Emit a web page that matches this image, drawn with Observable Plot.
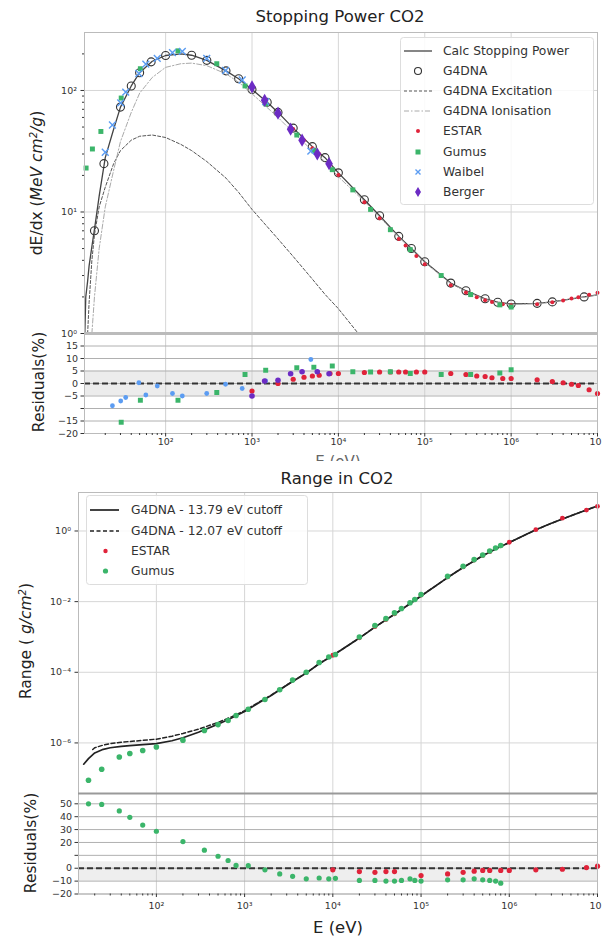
<!DOCTYPE html>
<html><head><meta charset="utf-8">
<script src="https://cdn.jsdelivr.net/npm/d3@7"></script>
<script src="https://cdn.jsdelivr.net/npm/@observablehq/plot@0.6"></script>
<style>
body{margin:0;background:#fff;}
#root{position:relative;width:602px;height:937px;overflow:hidden;font-family:"DejaVu Sans",sans-serif;background:#fff;}
.lbl{position:absolute;white-space:nowrap;color:#222;line-height:1;}
sup{font-size:65%;vertical-align:0.55em;line-height:0;}
</style></head><body><div id="root"></div>
<script>
// ---------- Stopping power data ----------
const calcE = [11.6,11.9,12.5,13,14,15,17,20,25,30,40,50,70,100,150,200,300,500,700,1000,1500,2000,3000,5000,7000,1e4,2e4,3e4,5e4,7e4,1e5,2e5,3e5,5e5,7e5,1e6,2e6,3e6,5e6,7e6,1e7];
const calcS = [1.0,2.0,2.7,3.6,5.2,7.2,13.5,28,48,73,109,140,174,194,200,195,177,145,125,102,80,66,49,34.5,28,21,12.6,9.3,6.3,5.0,3.9,2.6,2.25,1.93,1.81,1.75,1.77,1.82,1.93,2.0,2.08];
const excE = [12.5,13,14,15,17,20,25,30,40,50,70,100,150,200,300,500,700,1000,2000,3000,5000,7000,1e4,1.7e4];
const excS = [1.0,1.8,4,6.5,11,16,25,32,39,42,43,41,36,32,26,19,14.5,10.5,6,4.3,2.8,2.1,1.6,1.0];
const ionE = [14,15,17,20,25,30,40,50,70,100,150,200,300,500,700,1000,2000,3000,5000,7000,1e4,2e4,3e4,5e4,7e4,1e5,2e5,3e5,5e5,7e5,1e6,2e6,3e6,5e6,7e6,1e7];
const ionS = [1.0,2.0,5,11,22,38,66,95,128,155,166,168,160,137,117,94,60,45,32,26,19.5,12.2,9.1,6.2,4.95,3.85,2.57,2.23,1.91,1.8,1.73,1.76,1.81,1.92,1.99,2.07];
const g4E = [15,19.3,30,40,50,68,100,200,300,500,700,1000,1500,2000,3000,5000,7000,1e4,2e4,3e4,5e4,7e4,1e5,2e5,3e5,5e5,7e5,1e6,2e6,3e6,7e6];
const g4S = [7.0,25,73,109,140,172,194,195,177,145,125,102,80,66,49,34.5,28,21,12.6,9.3,6.3,5.0,3.9,2.6,2.25,1.93,1.81,1.75,1.77,1.82,2.0];
const estarE = [1000,2000,3000,4000,5000,6000,8000,1e4,2e4,3e4,4e4,5e4,6e4,8e4,1e5,2e5,3e5,4e5,5e5,6e5,8e5,1e6,2e6,3e6,4e6,5e6,6e6,8e6,1e7];
const estarS = [105,66,48.2,39,33.5,30,24.5,20.2,12.0,8.87,7.15,6.0,5.3,4.35,3.72,2.5,2.17,1.99,1.88,1.82,1.74,1.71,1.74,1.81,1.87,1.94,1.99,2.08,2.16];
const estarRes = [-3,0,1.7,2.5,3,3.3,4,4,4.4,4.6,4.6,4.6,4.6,4.6,4.6,4.0,3.6,3.0,2.8,2.3,2.0,2.0,1.5,0.8,0.3,-0.3,-0.8,-2.5,-4];
const gumE = [12,14.2,17.8,30.6,51,139,391,830,1440,3300,5200,8500,14700,23600,40000,68000,1.55e5,3.4e5,7.4e5,1e6];
const gumS = [23,33,46,86.6,151,212,166,109,77.6,43,31.8,22.3,15.2,10.5,7.15,4.9,3.0,2.09,1.72,1.65];
const gumResE = [30.6,51,139,391,830,1440,3300,5200,8500,14700,23600,40000,68000,1.55e5,3.4e5,7.4e5,1e6];
const gumRes = [-15.5,-6.7,-6.7,-3.6,3.6,5.3,6.3,6.5,7,4.7,4.6,4.7,4.0,3.6,3.6,4.2,5.5];
const waiE = [20,24.2,30.2,34.5,49,59,80,120,156,299,494,770,1440,4800];
const waiS = [31,52,79,97,138,165,184,205,210,184,146,122,81,31.7];
const waiResE = [24.2,30.2,34.5,49,59,80,120,156,299,494,770,1440,4800];
const waiRes = [-8.9,-7,-5.6,0.3,-4.6,-1,-4,-5,-4,-0.3,-2,1.0,9.6];
const berE = [1000,1400,2000,2800,3800,5700,7800];
const berS = [107,83,65,48,39,30,25];
const berRes = [-5,1,1.3,3.9,4.7,4.7,3.9];

// ---------- Range data ----------
const rSolidE = [15,17,20,25,30,40,50,70,100,150,200,300,500,700,1000,1500,2000,3000,5000,7000,1e4,2e4,3e4,5e4,7e4,1e5,2e5,3e5,5e5,7e5,1e6,2e6,3e6,5e6,7e6,1e7];
const rSolid = [2.5e-7,3.6e-7,5.2e-7,6.6e-7,7.3e-7,8.0e-7,8.4e-7,8.9e-7,9.6e-7,1.15e-6,1.4e-6,2.0e-6,3.4e-6,5.0e-6,7.8e-6,1.45e-5,2.2e-5,4.3e-5,9.5e-5,1.75e-4,3.0e-4,9.3e-4,1.9e-3,4.4e-3,7.8e-3,1.45e-2,4.8e-2,9.3e-2,0.2,0.31,0.47,1.08,1.65,2.7,3.7,5.1];
const rDashE = [19,20,25,30,40,50,70,100,150,200,300,500,700,1000,1500,2000,3000,5000,7000,1e4,2e4,3e4,5e4,7e4,1e5,2e5,3e5,5e5,7e5,1e6,2e6,3e6,5e6,7e6,1e7];
const rDash = [6.5e-7,7.3e-7,8.7e-7,9.6e-7,1.05e-6,1.1e-6,1.18e-6,1.28e-6,1.55e-6,1.85e-6,2.45e-6,3.8e-6,5.4e-6,8.2e-6,1.5e-5,2.25e-5,4.35e-5,9.6e-5,1.76e-4,3.0e-4,9.3e-4,1.9e-3,4.4e-3,7.8e-3,1.45e-2,4.8e-2,9.3e-2,0.2,0.31,0.47,1.08,1.65,2.7,3.7,5.1];
const rGumE = [17,24,38,50,70,100,200,350,500,650,800,1100,1700,2500,3500,5000,7000,9000,1.07e4,2e4,3e4,4e4,5e4,6e4,7.5e4,8.5e4,1e5,2e5,3e5,4e5,5e5,6e5,7e5,8e5];
const rGum = [8.8e-8,1.8e-7,4.0e-7,5.0e-7,6.1e-7,7.7e-7,1.2e-6,2.25e-6,3.3e-6,4.3e-6,6.0e-6,9.0e-6,1.7e-5,3.2e-5,6.0e-5,1.0e-4,1.9e-4,2.7e-4,3.2e-4,1.0e-3,2.1e-3,3.3e-3,4.8e-3,6.4e-3,9.3e-3,1.15e-2,1.6e-2,5.2e-2,0.1,0.155,0.21,0.27,0.33,0.39];
const rGumRes = [50,49.5,44.5,39.5,33.5,28.7,20.7,14,9.3,6,2.2,2,-1.2,-4.4,-6.3,-8.2,-7.6,-8.2,-7.8,-9.5,-9.5,-10,-10,-9.5,-8.2,-9.5,-10,-9,-9,-8.2,-9,-9.5,-10,-11.6];
const rEstE = [1e4,2e4,3e4,4e4,5e4,1e5,2e5,3e5,4e5,5e5,6e5,8e5,1e6,2e6,4e6,7.5e6,1e7];
const rEst = [3.04e-4,9.5e-4,1.96e-3,3.1e-3,4.5e-3,1.53e-2,5.0e-2,9.6e-2,0.15,0.203,0.26,0.38,0.48,1.09,2.3,3.9,5.0];
const rEstRes = [-1.2,-2.6,-3.2,-2.6,-2.6,-5.7,-4.4,-3.2,-2.3,-1.7,-1.7,-1.7,-1.7,-1.2,-0.8,0.5,1.6];

// ---------- axis tick lists ----------
const xDecades = [1e2,1e3,1e4,1e5,1e6,1e7];
const spYTicks = [1,10,100];
const resTopTicks = [15,10,5,0,-5,-10,-15,-20];
const rangeYTicks = [1e-6,1e-4,1e-2,1];
const resBotTicks = [50,40,30,20,10,0,-10,-20];

// ---------- helpers ----------
const zip = (xs, ys) => xs.map((x, i) => ({x, y: ys[i]}));
const SUP = {"0":"⁰","1":"¹","2":"²","3":"³","4":"⁴","5":"⁵","6":"⁶","7":"⁷","8":"⁸","9":"⁹","-":"⁻"};
const pow10 = v => "10" + String(Math.round(Math.log10(v))).split("").map(c => SUP[c]).join("");
const mfmt = skip => v => v === skip ? "" : (v < 0 ? "\u2212" + Math.abs(v) : String(v));
const minorLog = (lo, hi) => { const o = []; for (let e = lo; e < hi; e++) for (let k = 2; k <= 9; k++) o.push(k * 10 ** e); return o; };
const minorX = minorLog(1, 7).filter(v => v > 11.5);
const minorY = minorLog(0, 3).filter(v => v < 300);

const root = document.getElementById("root");
const STYLE = {fontFamily: "DejaVu Sans, sans-serif", fontSize: "9.5px", color: "#333", background: "transparent", overflow: "visible"};
function place(el, top) { el.style.position = "absolute"; el.style.left = "0px"; el.style.top = top + "px"; root.appendChild(el); }
function label(html, cx, cy, size, rotate, extra) {
  const d = document.createElement("div");
  d.className = "lbl";
  d.innerHTML = html;
  d.style.fontSize = size + "px";
  d.style.left = cx + "px"; d.style.top = cy + "px";
  d.style.transform = "translate(-50%,-50%)" + (rotate ? " rotate(-90deg)" : "");
  if (extra) Object.assign(d.style, extra);
  root.appendChild(d);
  return d;
}

const C = {estar: "#e0233a", gumus: "#3bb56a", waibel: "#5b9cf2", berger: "#6c2bc4", g4: "#333"};

// ---------- Stopping power main ----------
const spX = {type: "log", domain: [11.5, 1e7], axis: null};
place(Plot.plot({
  width: 602, height: 340, marginTop: 32, marginBottom: 7, marginLeft: 84, marginRight: 5, style: STYLE,
  x: spX, y: {type: "log", domain: [1, 300], axis: null},
  marks: [
    Plot.gridX(xDecades, {stroke: "#d6d6d6", strokeOpacity: 1}),
    Plot.gridY([10, 100], {stroke: "#d6d6d6", strokeOpacity: 1}),
    Plot.line(zip(calcE, calcS), {x: "x", y: "y", stroke: "#444", strokeWidth: 1.3, clip: true}),
    Plot.dot(zip(g4E, g4S), {x: "x", y: "y", r: 4, stroke: C.g4, fill: "none", strokeWidth: 1.1}),
    Plot.line(zip(excE, excS), {x: "x", y: "y", stroke: "#555", strokeWidth: 1, strokeDasharray: "3,2", clip: true}),
    Plot.line(zip(ionE, ionS), {x: "x", y: "y", stroke: "#aaa", strokeWidth: 1, strokeDasharray: "5,2,1.5,2", clip: true}),
    Plot.dot(zip(estarE, estarS), {x: "x", y: "y", r: 2, fill: C.estar}),
    Plot.dot(zip(gumE, gumS), {x: "x", y: "y", r: 2.8, symbol: "square", fill: C.gumus}),
    Plot.dot(zip(waiE, waiS), {x: "x", y: "y", r: 3.2, symbol: "times", stroke: C.waibel, strokeWidth: 1.4}),
    Plot.dot(zip(berE, berS), {x: "x", y: "y", r: 4, symbol: "diamond", fill: C.berger}),
    Plot.frame({stroke: "#bbb"}),
    Plot.axisY(spYTicks, {tickFormat: pow10, tickSize: 3.5, tickPadding: 4, label: null}),
    Plot.axisY(minorY, {tickFormat: () => "", tickSize: 2, label: null})
  ]
}), 0);

// ---------- Stopping power residuals ----------
place(Plot.plot({
  width: 602, height: 130, marginTop: 3, marginBottom: 27, marginLeft: 84, marginRight: 5, style: STYLE,
  x: spX, y: {domain: [-20, 20], axis: null},
  marks: [
    Plot.rect([{a: -5, b: 5}], {y1: "a", y2: "b", fill: "#ececec"}),
    Plot.gridX(xDecades, {stroke: "#d0d0d0", strokeOpacity: 1}),
    Plot.gridY(resTopTicks, {stroke: "#b0b0b0", strokeOpacity: 1}),
    Plot.ruleY([0], {stroke: "#333", strokeWidth: 2, strokeDasharray: "6,3"}),
    Plot.dot(zip(estarE, estarRes), {x: "x", y: "y", r: 2.6, fill: C.estar}),
    Plot.dot(zip(gumResE, gumRes), {x: "x", y: "y", r: 2.8, symbol: "square", fill: C.gumus}),
    Plot.dot(zip(waiResE, waiRes), {x: "x", y: "y", r: 2.4, fill: C.waibel}),
    Plot.dot(zip(berE, berRes), {x: "x", y: "y", r: 2.8, fill: C.berger}),
    Plot.frame({stroke: "#bbb"}),
    Plot.ruleY([20], {stroke: "#bbb", strokeWidth: 3}),
    Plot.axisY(resTopTicks, {tickFormat: mfmt(-10), tickSize: 3.5, tickPadding: 3, label: null}),
    Plot.axisX(xDecades, {tickFormat: pow10, tickSize: 3.5, tickPadding: 1, label: null}),
    Plot.axisX(minorX, {tickFormat: () => "", tickSize: 2, label: null})
  ]
}), 330);

// top panel texts
label("Stopping Power CO2", 340, 17, 16.5, false);
label("dE/dx (<i>MeV cm<sup>2</sup>/g</i>)", 38, 183, 15.5, true);
label("Residuals(%)", 40, 382, 15.5, true);
label("E (eV)", 338, 461.5, 15, false, {color: "#666"});

// cover (lower figure drawn over the upper x label)
const cover = document.createElement("div");
Object.assign(cover.style, {position: "absolute", left: "0px", top: "461px", width: "602px", height: "476px", background: "#fff"});
root.appendChild(cover);

// legend helper
function legend(left, top, w, h, rows) {
  const ns = "http://www.w3.org/2000/svg";
  const s = document.createElementNS(ns, "svg");
  s.setAttribute("width", w); s.setAttribute("height", h);
  Object.assign(s.style, {position: "absolute", left: left + "px", top: top + "px", overflow: "visible"});
  let html = `<rect x="0.5" y="0.5" width="${w - 1}" height="${h - 1}" rx="3" fill="#fff" fill-opacity="0.85" stroke="#ddd"/>`;
  for (const r of rows) html += r;
  s.innerHTML = html;
  root.appendChild(s);
}
const txt = (x, y, t) => `<text x="${x}" y="${y}" dy="0.35em" font-family="DejaVu Sans, sans-serif" font-size="12.3" fill="#333">${t}</text>`;

legend(400, 37, 194, 168, [
  `<line x1="4" x2="32" y1="14" y2="14" stroke="#444" stroke-width="1.3"/>` + txt(43, 14, "Calc Stopping Power"),
  `<circle cx="18" cy="34" r="3.5" fill="none" stroke="#333" stroke-width="1.1"/>` + txt(43, 34, "G4DNA"),
  `<line x1="4" x2="32" y1="54" y2="54" stroke="#555" stroke-dasharray="3,2"/>` + txt(43, 54, "G4DNA Excitation"),
  `<line x1="4" x2="32" y1="74" y2="74" stroke="#aaa" stroke-dasharray="5,2,1.5,2"/>` + txt(43, 74, "G4DNA Ionisation"),
  `<circle cx="18" cy="94" r="2" fill="${C.estar}"/>` + txt(43, 94, "ESTAR"),
  `<rect x="15.5" y="112.5" width="5" height="5" fill="${C.gumus}"/>` + txt(43, 115, "Gumus"),
  `<path d="M15.5,132.5L20.5,137.5M20.5,132.5L15.5,137.5" stroke="${C.waibel}" stroke-width="1.4"/>` + txt(43, 135, "Waibel"),
  `<path d="M18,150L21,155L18,160L15,155Z" fill="${C.berger}"/>` + txt(43, 155, "Berger")
]);

// ---------- Range main ----------
const rX = {type: "log", domain: [13.1, 1e7], axis: null};
place(Plot.plot({
  width: 602, height: 340, marginTop: 32, marginBottom: 7, marginLeft: 78, marginRight: 5, style: STYLE,
  x: rX, y: {type: "log", domain: [3.7e-8, 12.3], axis: null},
  marks: [
    Plot.gridX(xDecades, {stroke: "#d6d6d6", strokeOpacity: 1}),
    Plot.gridY(rangeYTicks, {stroke: "#d6d6d6", strokeOpacity: 1}),
    Plot.line(zip(rSolidE, rSolid), {x: "x", y: "y", stroke: "#222", strokeWidth: 1.7, clip: true}),
    Plot.line(zip(rDashE, rDash), {x: "x", y: "y", stroke: "#222", strokeWidth: 1.5, strokeDasharray: "4,2.5", clip: true}),
    Plot.dot(zip(rEstE, rEst), {x: "x", y: "y", r: 2.4, fill: C.estar}),
    Plot.dot(zip(rGumE, rGum), {x: "x", y: "y", r: 2.8, fill: C.gumus}),
    Plot.frame({stroke: "#bbb"}),
    Plot.axisY(rangeYTicks, {tickFormat: pow10, tickSize: 3.5, tickPadding: 4, label: null})
  ]
}), 460);

// ---------- Range residuals ----------
place(Plot.plot({
  width: 602, height: 130, marginTop: 3, marginBottom: 26.5, marginLeft: 78, marginRight: 5, style: STYLE,
  x: rX, y: {domain: [-20, 58], axis: null},
  marks: [
    Plot.rect([{a: -10, b: 5}], {y1: "a", y2: "b", fill: "#eeeeee"}),
    Plot.gridX(xDecades, {stroke: "#d0d0d0", strokeOpacity: 1}),
    Plot.gridY(resBotTicks, {stroke: "#b0b0b0", strokeOpacity: 1}),
    Plot.ruleY([0], {stroke: "#333", strokeWidth: 2, strokeDasharray: "6,3"}),
    Plot.dot(zip(rEstE, rEstRes), {x: "x", y: "y", r: 2.6, fill: C.estar}),
    Plot.dot(zip(rGumE, rGumRes), {x: "x", y: "y", r: 2.6, fill: C.gumus}),
    Plot.frame({stroke: "#bbb"}),
    Plot.ruleY([58], {stroke: "#999", strokeWidth: 2}),
    Plot.axisY(resBotTicks, {tickFormat: mfmt(10), tickSize: 3.5, tickPadding: 3, label: null}),
    Plot.axisX(xDecades, {tickFormat: pow10, tickSize: 3.5, tickPadding: 5, label: null}),
    Plot.axisX(minorLog(1, 7).filter(v => v > 13.1), {tickFormat: () => "", tickSize: 2, label: null})
  ]
}), 790);

label("Range in CO2", 337, 479, 16.5, false);
label("Range ( <i>g/cm<sup>2</sup></i>)", 27, 641, 15.5, true);
label("Residuals(%)", 32, 843, 15.5, true);
label("E (eV)", 338, 928, 16.5, false);

legend(86, 495, 222, 90, [
  `<line x1="4" x2="33" y1="15" y2="15" stroke="#222" stroke-width="1.7"/>` + txt(45, 15, "G4DNA - 13.79 eV cutoff"),
  `<line x1="4" x2="33" y1="36" y2="36" stroke="#222" stroke-width="1.5" stroke-dasharray="4,2.5"/>` + txt(45, 36, "G4DNA - 12.07 eV cutoff"),
  `<circle cx="19.5" cy="56" r="2.2" fill="${C.estar}"/>` + txt(45, 56, "ESTAR"),
  `<circle cx="19.5" cy="76" r="2.6" fill="${C.gumus}"/>` + txt(45, 76, "Gumus")
]);
</script></body></html>
